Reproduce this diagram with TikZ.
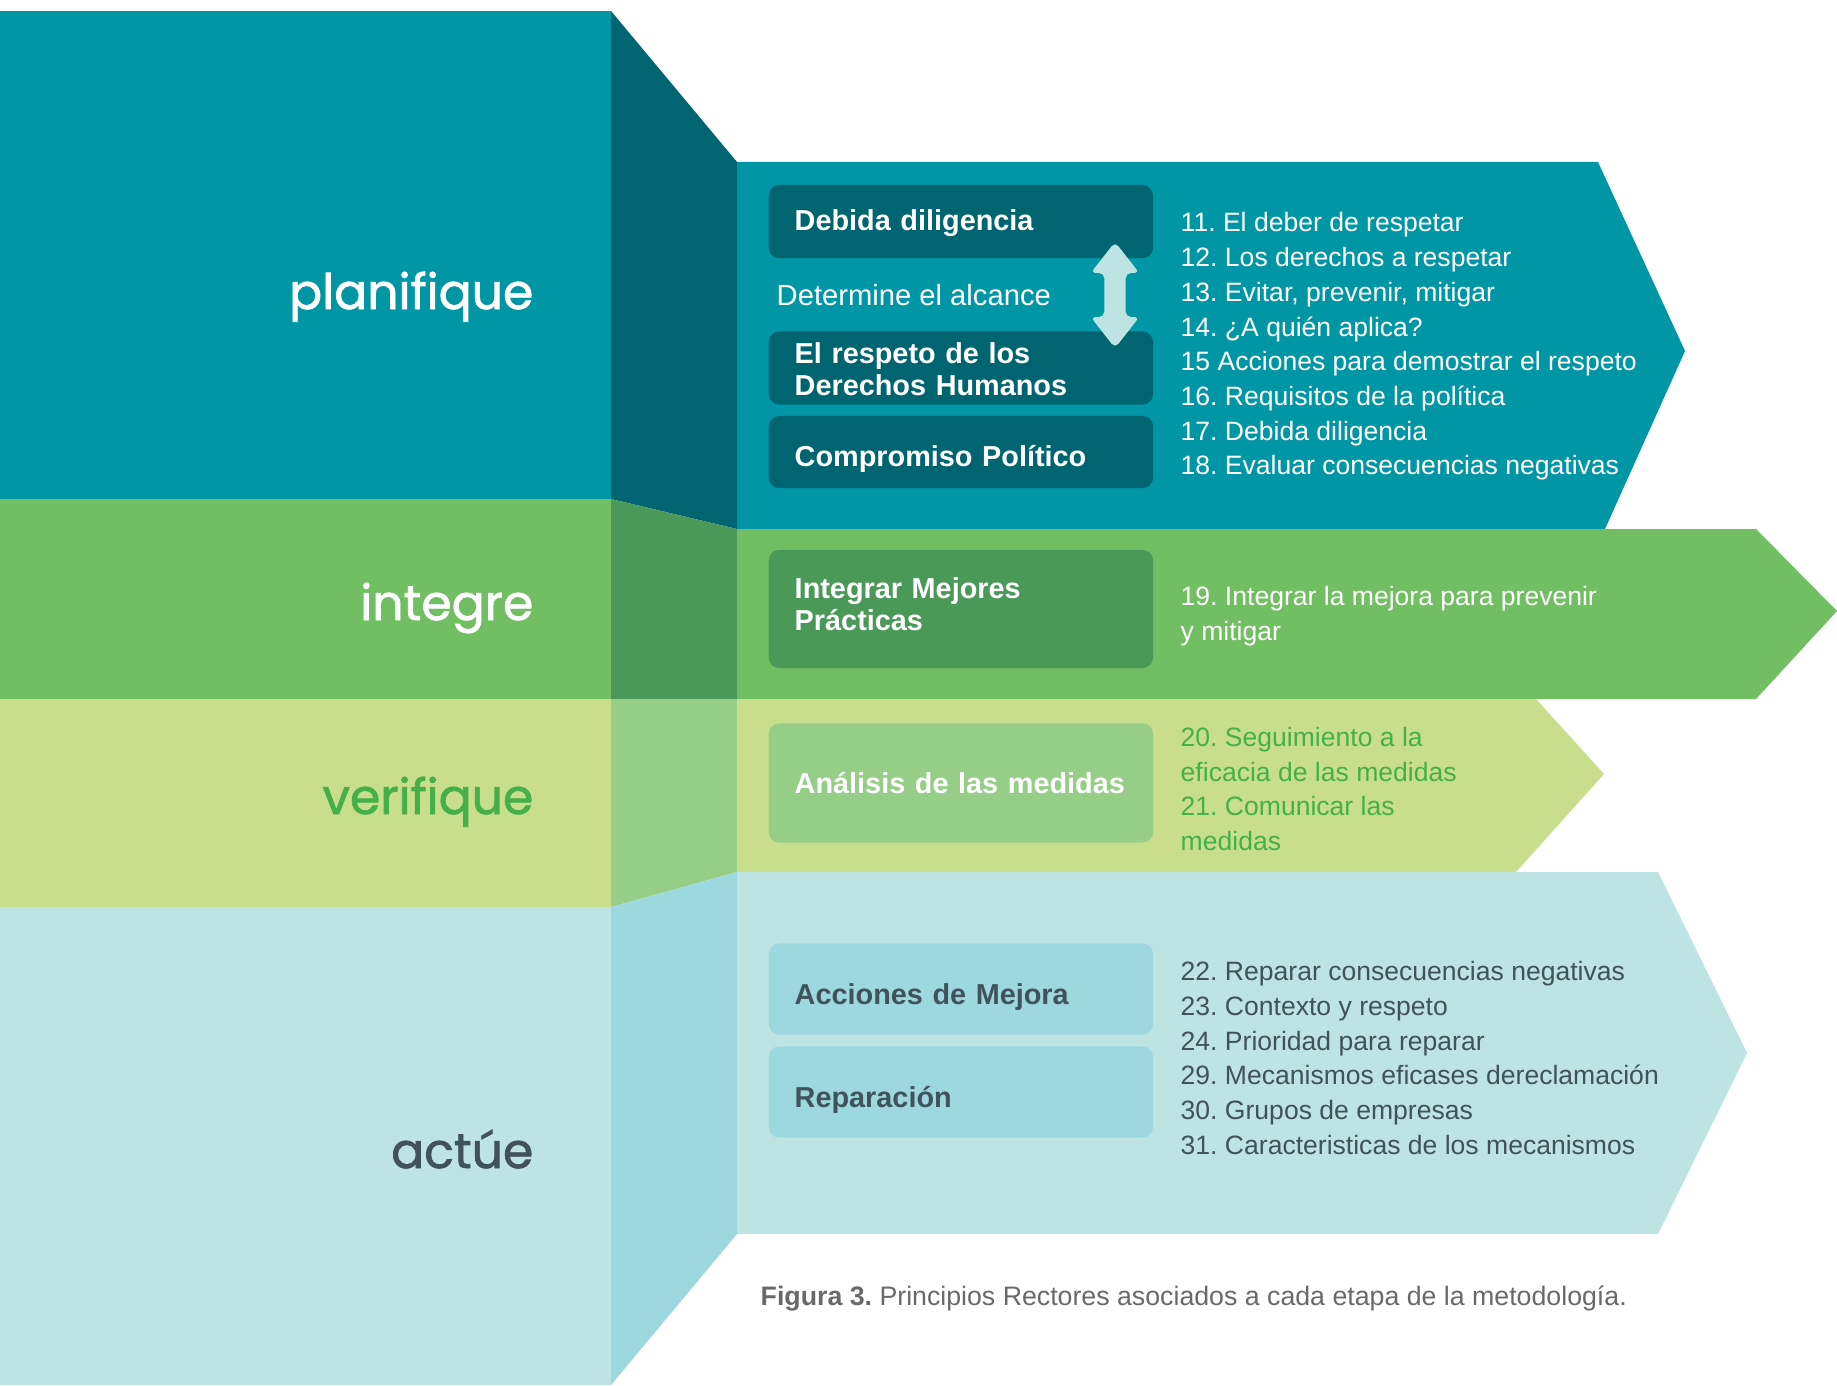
\documentclass[tikz,border=0pt]{standalone}
\usepackage{fontspec}
\setmainfont{Liberation Sans}
\newfontfamily\stagefont{Poppins}[FakeBold=1.5]
\usetikzlibrary{shapes.arrows}
\definecolor{plan}{RGB}{0,150,166}
\definecolor{plandark}{RGB}{0,101,113}
\definecolor{integ}{RGB}{114,190,98}
\definecolor{integdark}{RGB}{75,153,89}
\definecolor{verif}{RGB}{200,222,140}
\definecolor{verifdark}{RGB}{151,206,135}
\definecolor{verifgreen}{RGB}{69,176,74}
\definecolor{actua}{RGB}{189,228,227}
\definecolor{actuadark}{RGB}{158,216,223}
\definecolor{actuatext}{RGB}{64,82,90}
\definecolor{capgray}{RGB}{105,105,105}
\frenchspacing

\begin{document}
\begin{tikzpicture}[x=0.01cm, y=0.01cm]
      \tikzstyle{every node}+=[inner sep=0pt]
      \tikzstyle{stage}=[anchor=base east, font=\stagefont\fontsize{13.9}{16}\selectfont]
      \tikzstyle{box}=[rectangle, rounded corners=3pt, anchor=west, text width=94.5pt, inner xsep=7.4pt, align=left, font=\bfseries\fontsize{8.2}{9}\selectfont]
      \tikzstyle{items}=[anchor=west, align=left, font=\fontsize{7.55}{9.87}\selectfont]
      \useasboundingbox (0,0) rectangle (1837,-1385);
      \fill [plan] (0,-11) rectangle (611,-499);
      \fill [plandark] (611,-11) -- (737,-162) -- (737,-529) -- (611,-499) -- cycle;
      \fill [plan] (737,-162) -- (1598,-162) -- (1685,-351) -- (1605,-529) -- (737,-529) -- cycle;
      \fill [integ] (0,-499) rectangle (611,-699);
      \fill [integdark] (611,-499) -- (737,-529) -- (737,-699) -- (611,-699) -- cycle;
      \fill [integ] (737,-529) -- (1756,-529) -- (1837,-611) -- (1756,-699) -- (737,-699) -- cycle;
      \fill [verif] (0,-699) rectangle (611,-907);
      \fill [verifdark] (611,-699) -- (737,-699) -- (737,-872) -- (611,-907) -- cycle;
      \fill [verif] (737,-699) -- (1536,-699) -- (1604,-774) -- (1516,-872) -- (737,-872) -- cycle;
      \fill [actua] (0,-907) rectangle (611,-1385);
      \fill [actuadark] (611,-907) -- (737,-872) -- (737,-1234) -- (611,-1385) -- cycle;
      \fill [actua] (737,-872) -- (1658,-872) -- (1747,-1053) -- (1658,-1234) -- (737,-1234) -- cycle;
      \node [stage, white] (planifique) at (534,-309) {planifique};
      \node [stage, white] (integre) at (534,-620) {integre};
      \node [stage, verifgreen] (verifique) at (534,-814) {verifique};
      \node [stage, actuatext] (actue) at (534,-1168) {actúe};
      \node [box, fill=plandark, text=white, minimum height=20.8pt, text height=5.4pt, text depth=0pt] (debida) at (768,-221.5) {Debida diligencia};
      \node [box, fill=plandark, text=white, minimum height=20.8pt, text height=6pt, text depth=8.3pt] (respeto) at (768,-368) {El respeto de los\\Derechos Humanos};
      \node [box, fill=plandark, text=white, minimum height=20.5pt, text height=8pt, text depth=0pt] (compromiso) at (768,-452) {Compromiso Político};
      \node [anchor=base west, white, font=\fontsize{8.3}{10}\selectfont] (alcance) at (776,-305) {Determine el alcance};
      \node [double arrow, fill=actua, rotate=90, minimum height=30.2pt, inner sep=2.85pt, double arrow head extend=3.85pt, double arrow tip angle=76, rounded corners=1.5pt] (alcancearrow) at (1115,-295) {};
      \node [box, fill=integdark, text=white, minimum height=33.6pt, text height=6pt, text depth=11.7pt] (integrar) at (768,-609) {Integrar Mejores\\Prácticas};
      \node [box, fill=verifdark, text=white, minimum height=33.9pt, text height=6.2pt, text depth=0pt] (analisis) at (768,-783) {Análisis de las medidas};
      \node [box, fill=actuadark, text=actuatext, minimum height=25.9pt, text height=8.6pt, text depth=0pt] (acciones) at (768,-989) {Acciones de Mejora};
      \node [box, fill=actuadark, text=actuatext, minimum height=25.9pt, text height=8.6pt, text depth=0pt] (reparacion) at (768,-1092) {Reparación};
      \node [items, white] (planlist) at (1180,-346.5) {11. El deber de respetar\\12. Los derechos a respetar\\13. Evitar, prevenir, mitigar\\14. ¿A quién aplica?\\15 Acciones para demostrar el respeto\\16. Requisitos de la política\\17. Debida diligencia\\18. Evaluar consecuencias negativas};
      \node [items, white] (integlist) at (1180,-616) {19. Integrar la mejora para prevenir\\y mitigar};
      \node [items, verifgreen] (veriflist) at (1180,-789) {20. Seguimiento a la\\eficacia de las medidas\\21. Comunicar las\\medidas};
      \node [items, actuatext] (actualist) at (1180,-1058) {22. Reparar consecuencias negativas\\23. Contexto y respeto\\24. Prioridad para reparar\\29. Mecanismos eficases dereclamación\\30. Grupos de empresas\\31. Caracteristicas de los mecanismos};
      \node [anchor=west, capgray, font=\fontsize{7.6}{9}\selectfont] (caption) at (760,-1298) {\textbf{Figura 3.} Principios Rectores asociados a cada etapa de la metodología.};
      \end{tikzpicture}
\end{document}
